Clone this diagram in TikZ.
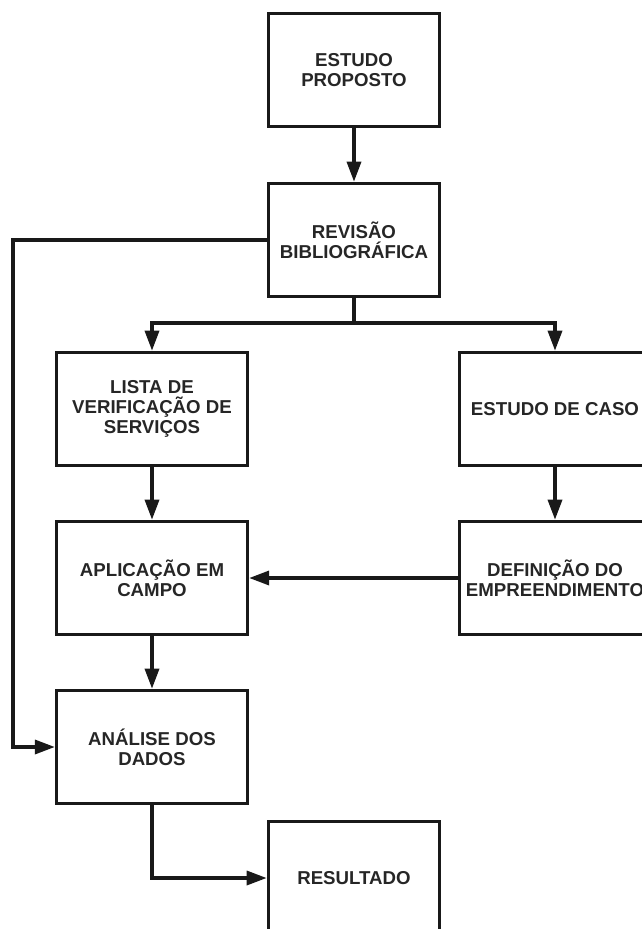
\documentclass[tikz,border=0pt]{standalone}
\usepackage{fontspec}
\setmainfont{Liberation Sans}
\usetikzlibrary{arrows.meta}

\begin{document}
\begin{tikzpicture}[
	x=0.75pt, y=-0.75pt,
	etapa/.style={
		shape=rectangle,
		draw=black!90,
		line width=2.7pt,
		align=center,
		inner sep=0pt,
		minimum width=128.25pt,
		minimum height=84.75pt,
		text=black!85,
		font=\fontsize{14}{15}\selectfont\bfseries},
	etapalarga/.style={etapa, minimum width=143pt},
	seta/.style={draw=black!90, line width=2.5pt, -{Triangle[length=15pt,width=10.5pt]}},
	linha/.style={draw=black!90, line width=2.5pt}
	]
	\useasboundingbox (0,0) rectangle (642,929);
	\clip (0,0) rectangle (642,929);

	\node[etapa] (estudo) at (354,70) {ESTUDO\\PROPOSTO};
	\node[etapa] (revisao) at (354,240) {REVIS\~AO\\BIBLIOGR\'AFICA};
	\node[etapalarga] (lista) at (152,409) {LISTA DE\\VERIFICA\c{C}\~AO DE\\SERVI\c{C}OS};
	\node[etapalarga] (caso) at (555,409) {ESTUDO DE CASO};
	\node[etapalarga] (aplicacao) at (152,578) {APLICA\c{C}\~AO EM\\CAMPO};
	\node[etapalarga] (definicao) at (555,578) {DEFINI\c{C}\~AO DO\\EMPREENDIMENTO};
	\node[etapalarga] (analise) at (152,747) {AN\'ALISE DOS\\DADOS};
	\node[etapa] (resultado) at (354,878) {RESULTADO};

	\coordinate (ramo) at (354,323);
	\coordinate (volta) at (13,240);

	\draw[seta] (estudo) -- (revisao);
	\draw[linha] (revisao) -- (ramo);
	\draw[seta] (ramo) -| (lista.north);
	\draw[seta] (ramo) -| (caso.north);
	\draw[seta] (lista) -- (aplicacao);
	\draw[seta] (caso) -- (definicao);
	\draw[seta] (definicao) -- (aplicacao);
	\draw[seta] (aplicacao) -- (analise);
	\draw[seta] (revisao.west) -- (volta) |- (analise.west);
	\draw[seta] (analise.south) |- (resultado.west);
\end{tikzpicture}
\end{document}
